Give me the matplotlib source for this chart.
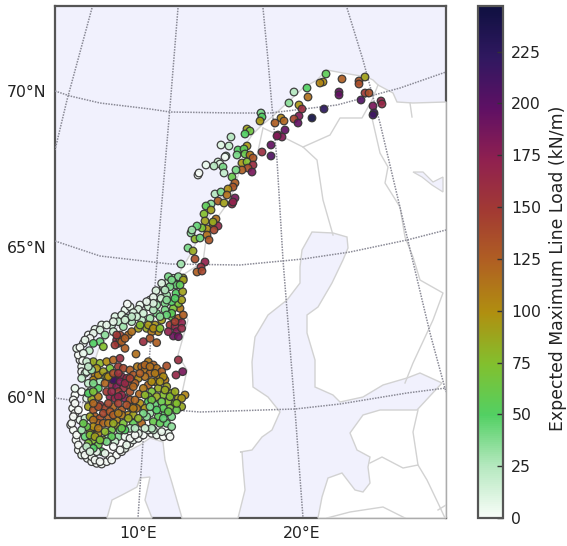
import numpy as np
import matplotlib
matplotlib.use('Agg')
import matplotlib.pyplot as plt
from matplotlib.colors import LinearSegmentedColormap
from matplotlib.cm import ScalarMappable
from matplotlib.colors import Normalize

font = {'family': 'DejaVu Sans', 'weight': 'normal', 'size': 11.3}
matplotlib.rc('font', **font)

# map coordinates
north_x = [326, 323, 320, 342, 359, 359, 365, 307, 308, 294, 339, 339, 365, 369, 361, 289, 299, 302, 324, 312,
           299, 294, 298, 373, 381, 382, 374, 373, 261, 262, 260, 281, 284, 275, 285, 278, 282, 277, 247, 250,
           245, 231, 221, 229, 271, 262, 271, 247, 238, 244, 237, 245, 250, 253, 242, 247, 253, 248, 242, 252,
           226, 225, 218, 220, 206, 214, 223, 198, 199, 224, 236, 232, 235, 233, 215, 221, 228, 227, 235, 232,
           233, 218, 224, 211, 206, 204, 211, 216, 205, 207, 213, 218, 214, 213, 202, 197, 191, 192, 195, 200,
           207, 209, 188, 193, 181, 195, 205, 201, 197, 202, 177, 183, 172]
north_y = [74, 82, 83, 79, 81, 84, 77, 88, 97, 92, 92, 95, 93, 93, 100, 103, 105, 109, 109, 118,
           116, 119, 123, 106, 101, 104, 113, 115, 113, 117, 121, 118, 121, 123, 130, 135, 137, 136, 129, 131,
           134, 137, 145, 146, 145, 152, 156, 146, 150, 149, 155, 154, 155, 158, 163, 162, 165, 168, 170, 172,
           156, 157, 162, 164, 165, 166, 167, 175, 173, 173, 170, 177, 183, 187, 194, 192, 189, 195, 198, 204,
           202, 201, 203, 204, 206, 214, 210, 219, 221, 229, 224, 226, 230, 222, 228, 226, 233, 230, 239, 238,
           235, 240, 248, 251, 264, 259, 262, 267, 272, 271, 278, 278, 281]
north_load = [55, 100, 105, 125, 130, 135, 90, 50, 115, 25, 195, 195, 150, 135, 205, 35, 95, 160, 225, 245,
              180, 140, 195, 185, 170, 165, 215, 215, 40, 50, 95, 105, 120, 125, 195, 175, 180, 180, 90, 65,
              50, 25, 10, 20, 195, 160, 205, 95, 50, 55, 40, 60, 110, 130, 95, 75, 160, 135, 125, 185,
              30, 0, 15, 10, 5, 25, 40, 0, 0, 20, 40, 60, 125, 130, 25, 40, 100, 115, 185, 165,
              170, 125, 90, 35, 55, 75, 90, 115, 90, 100, 110, 165, 140, 85, 70, 45, 35, 30, 80, 45,
              115, 130, 40, 85, 30, 135, 170, 160, 125, 140, 50, 85, 50]

# southern cluster, digitised on a 3x crop starting at (50, 260)
south_cx = [385, 355, 400, 378, 360, 335, 318, 350, 378, 398, 333, 310, 232, 390, 370, 345, 320, 295, 265, 250,
            215, 205, 185, 170, 245, 275, 300, 320, 345, 365, 385, 400, 360, 395, 375, 380, 370, 355, 335, 230,
            190, 220, 265, 290, 315, 325, 305, 270, 210, 235, 245, 205, 200, 225, 280, 300, 320, 150, 130, 120,
            165, 150, 130, 160, 105, 90, 118, 100, 98, 120, 130, 150, 170, 180, 190, 210, 258, 105, 95, 110,
            135, 130, 155, 150, 115, 205, 220, 240, 262, 275, 295, 310, 320, 285, 300, 350, 325, 335, 385, 398,
            378, 195, 185, 200, 215, 230, 250, 265, 235, 255, 220, 180, 225, 240, 205, 190, 345, 315, 295, 350,
            325, 365, 305, 340, 295, 320, 405, 385, 355, 375, 395, 268, 75, 95, 120, 145, 110, 75, 125, 145,
            85, 115, 150, 130, 165, 190, 215, 240, 235, 270, 295, 315, 335, 360, 380, 345, 365, 325, 300, 285,
            260, 250, 65, 70, 90, 105, 135, 150, 175, 145, 200, 215, 250, 275, 290, 310, 350, 365, 330, 85,
            80, 105, 125, 120, 145, 160, 130, 115, 145, 185, 205, 220, 240, 175, 205, 195, 225, 210, 265, 295,
            240, 255, 230, 210, 155, 125, 100, 105, 135, 150, 185, 165, 190, 140, 335, 360, 310]
south_cy = [50, 50, 60, 75, 80, 70, 92, 105, 100, 95, 115, 112, 132, 145, 145, 130, 135, 140, 148, 158,
            165, 185, 195, 195, 185, 180, 175, 160, 150, 170, 175, 165, 195, 188, 200, 215, 228, 215, 180, 175,
            215, 200, 205, 205, 195, 215, 215, 195, 225, 225, 215, 250, 240, 265, 245, 235, 248, 210, 220, 235,
            225, 245, 250, 260, 240, 262, 272, 280, 302, 310, 305, 310, 305, 325, 300, 295, 282, 340, 355, 335,
            345, 360, 350, 365, 370, 320, 325, 330, 320, 320, 305, 315, 325, 330, 340, 318, 345, 335, 300, 335,
            345, 355, 375, 380, 350, 355, 345, 355, 375, 370, 385, 410, 415, 395, 395, 360, 360, 365, 375, 380,
            385, 400, 395, 405, 410, 410, 405, 415, 425, 430, 440, 402, 385, 395, 395, 385, 415, 430, 418, 410,
            450, 440, 435, 450, 445, 440, 450, 440, 465, 430, 425, 435, 425, 445, 450, 460, 470, 470, 460, 445,
            445, 465, 490, 470, 480, 475, 470, 475, 470, 490, 480, 465, 490, 490, 470, 485, 490, 500, 490, 555,
            525, 530, 520, 510, 520, 540, 540, 550, 555, 510, 500, 490, 505, 525, 530, 545, 530, 510, 520, 510,
            535, 525, 555, 570, 575, 590, 570, 585, 600, 605, 600, 580, 560, 575, 515, 530, 510]
south_load = [35, 40, 90, 45, 40, 10, 10, 30, 50, 90, 15, 5, 0, 110, 70, 40, 30, 15, 10, 10,
              10, 20, 15, 5, 25, 20, 30, 40, 40, 60, 120, 125, 150, 170, 165, 180, 190, 170, 90, 25,
              15, 30, 90, 85, 95, 105, 110, 75, 140, 120, 115, 160, 165, 125, 160, 130, 125, 10, 5, 0,
              35, 45, 50, 75, 5, 0, 20, 5, 0, 15, 85, 80, 100, 70, 120, 160, 115, 25, 20, 10,
              110, 105, 30, 25, 20, 150, 140, 125, 110, 120, 110, 120, 115, 115, 120, 135, 110, 125, 160, 185,
              165, 195, 165, 180, 170, 165, 130, 105, 140, 125, 160, 170, 175, 135, 150, 215, 110, 105, 120, 90,
              85, 80, 70, 75, 65, 85, 105, 90, 75, 70, 85, 120, 5, 0, 20, 50, 10, 0, 85, 110,
              0, 90, 160, 130, 140, 120, 125, 105, 105, 100, 50, 45, 60, 70, 60, 50, 40, 55, 30, 95,
              115, 90, 0, 0, 5, 15, 125, 135, 125, 120, 105, 110, 55, 120, 35, 60, 45, 35, 55, 0,
              0, 45, 90, 95, 105, 85, 75, 70, 60, 65, 90, 70, 25, 30, 35, 15, 5, 40, 5, 5,
              0, 0, 5, 0, 50, 0, 0, 0, 0, 0, 0, 5, 0, 5, 5, 0, 20]

# outer ring of low load stations, same crop
ring_cx = [75, 70, 68, 75, 62, 70, 78, 85, 95, 112, 125, 140, 155, 170, 180, 200, 215, 225, 240, 250,
           265, 280, 305, 320, 340, 355, 90, 85, 95, 95, 80, 100, 115, 135, 155, 195, 225, 240, 270, 300,
           325, 340, 355, 370]
ring_cy = [405, 420, 445, 460, 495, 510, 540, 570, 585, 595, 605, 610, 612, 605, 590, 585, 575, 565, 550, 540,
           535, 525, 520, 525, 530, 520, 300, 285, 320, 335, 265, 250, 225, 208, 195, 170, 150, 140, 135, 120,
           100, 80, 65, 55]
ring_load = [0, 0, 0, 0, 0, 0, 0, 0, 5, 0, 0, 0, 0, 0, 0, 0, 0, 5, 0, 5,
             0, 0, 0, 5, 0, 5, 0, 0, 5, 0, 5, 0, 0, 5, 5, 10, 5, 5, 5, 5,
             5, 5, 15, 20]

# inner stations of the same cluster
inner_cx = [120, 130, 160, 180, 160, 175, 190, 205, 130, 145, 110, 95, 100, 120, 135, 165, 185, 170, 150, 130,
            110, 120, 145, 130, 115, 130, 130, 145, 140, 125, 110, 115, 160, 170, 165, 175, 190, 205, 210, 225,
            240, 215, 195, 170, 185, 205, 250, 240, 255, 230, 205, 175, 250, 285, 270, 285, 300, 315, 340, 330,
            305, 280, 305, 285, 345, 360, 375, 395, 340, 320, 300, 280, 265, 340, 355, 380, 305, 285, 255, 225,
            190, 235, 215, 210, 195, 215, 200, 225, 295, 310, 330, 365, 350, 330, 310, 280, 260, 245, 225, 190,
            385, 365, 350, 395, 345, 365, 390, 375, 310, 290, 375, 395, 385]
inner_cy = [470, 480, 460, 455, 490, 490, 465, 460, 500, 505, 500, 510, 490, 525, 530, 515, 530, 545, 540, 565,
            560, 575, 440, 430, 400, 395, 370, 345, 325, 330, 305, 320, 335, 350, 370, 350, 340, 340, 365, 370,
            355, 405, 415, 395, 395, 410, 380, 420, 420, 435, 430, 430, 445, 350, 340, 315, 320, 340, 350, 365,
            365, 385, 420, 405, 390, 410, 395, 415, 445, 450, 440, 460, 475, 475, 455, 430, 505, 505, 505, 510,
            490, 475, 505, 240, 255, 245, 225, 235, 195, 205, 205, 160, 165, 170, 150, 160, 170, 170, 180, 185,
            130, 125, 120, 120, 90, 60, 75, 115, 130, 125, 185, 205, 230]
inner_load = [90, 115, 140, 130, 120, 110, 125, 110, 100, 110, 60, 30, 60, 75, 90, 80, 55, 40, 70, 50,
              20, 10, 135, 120, 50, 70, 40, 105, 95, 30, 15, 20, 90, 85, 120, 100, 135, 155, 180, 165,
              145, 165, 165, 150, 165, 170, 120, 130, 120, 135, 145, 140, 110, 115, 125, 120, 115, 110, 100, 95,
              100, 110, 65, 80, 85, 75, 85, 95, 55, 50, 40, 40, 80, 45, 60, 75, 25, 15, 25, 50,
              85, 85, 60, 130, 150, 125, 150, 125, 95, 100, 75, 55, 45, 35, 25, 15, 15, 20, 15, 5,
              70, 50, 35, 90, 25, 40, 55, 50, 10, 5, 145, 165, 190]

# coast and borders in map coordinates
land_x = [163, 165, 172, 182, 238, 245, 243, 242, 240, 252, 262, 272, 280, 268, 253, 252, 255, 268, 287, 300,
          300, 302, 312, 333, 347, 348, 343, 332, 318, 307, 307, 315, 315, 333, 340, 363, 383, 407, 420, 442,
          417, 380, 363, 350, 357, 370, 368, 370, 363, 355, 342, 328, 322, 318, 446, 446, 413, 397, 393, 378,
          373, 367, 343, 327, 317, 303, 287, 272, 262, 252, 242, 236, 225, 215, 205, 190, 178, 165, 150, 125,
          100, 85, 80, 82, 95, 115, 140, 150]
land_y = [442, 460, 483, 518, 518, 490, 467, 452, 452, 450, 437, 430, 412, 397, 387, 362, 337, 315, 300, 283,
          267, 250, 232, 233, 237, 248, 260, 283, 307, 315, 333, 360, 387, 395, 402, 397, 385, 378, 373, 383,
          410, 410, 415, 433, 450, 457, 467, 483, 492, 490, 473, 478, 497, 518, 518, 102, 103, 102, 93, 85,
          80, 77, 73, 70, 80, 88, 103, 117, 125, 135, 150, 170, 195, 205, 225, 255, 275, 295, 305, 320,
          345, 390, 420, 440, 452, 458, 445, 438]
denmark_x = [107, 112, 122, 137, 140, 150, 145, 152]
denmark_y = [518, 500, 495, 487, 478, 477, 500, 518]
white_sea_x = [413, 423, 433, 443, 443, 432, 422]
white_sea_y = [172, 172, 182, 177, 192, 185, 177]
borders = [
    ([183, 182, 187, 178, 188, 178, 178, 203, 207, 230, 240, 255, 263], [410, 393, 370, 355, 320, 300, 278, 262, 232, 200, 170, 165, 128]),
    ([263, 285, 303, 317, 323, 333], [128, 138, 147, 160, 200, 235]),
    ([303, 330, 340, 362, 372, 378], [147, 135, 118, 118, 100, 85]),
    ([372, 380, 388, 385, 400, 405, 413, 420, 443, 433, 413, 405], [118, 153, 167, 183, 207, 237, 257, 280, 293, 320, 363, 383]),
    ([370, 382, 403, 418, 427, 438, 445], [463, 457, 468, 465, 480, 503, 518]),
    ([418, 413, 418], [410, 432, 465]),
    ([327, 350, 383, 405], [518, 512, 507, 518]),
    ([438, 446], [510, 505]),
    ([410, 412], [103, 117]),
]

# graticule
parallel_70_x = [55, 70, 100, 150, 170, 235, 270, 337, 400, 446]
parallel_70_y = [91, 96, 103, 109, 112, 113, 113, 105, 88, 72]
parallel_65_x = [55, 100, 170, 240, 303, 350, 407, 446]
parallel_65_y = [241, 256, 264, 265, 259, 252, 240, 230]
parallel_60_x = [55, 70, 110, 187, 200, 295, 340, 407, 446]
parallel_60_y = [398, 400, 408, 411, 412, 409, 404, 393, 388]
meridian_0_x = [92, 67, 55]
meridian_0_y = [8, 100, 150]
meridian_10_x = [178, 170, 157, 150, 143, 138]
meridian_10_y = [8, 107, 260, 350, 442, 518]
meridian_20_x = [263, 268, 272, 277, 283, 295, 303]
meridian_20_y = [8, 60, 107, 160, 260, 410, 518]
meridian_30_x = [347, 363, 380, 403, 430, 446]
meridian_30_y = [8, 60, 123, 220, 333, 392]

lat_ticks = [91, 247, 397]
lat_labels = ['70°N', '65°N', '60°N']
lon_ticks = [138, 302]
lon_labels = ['10°E', '20°E']

cbar_ticks = [0, 25, 50, 75, 100, 125, 150, 175, 200, 225]
cbar_colors = ['#f8fdf8', '#b5e8bf', '#52d063', '#82c02e', '#b08f10', '#b06022',
               '#a23a33', '#902050', '#5f1064', '#301860', '#0f1040']
load_max = 247


def main():
    # ring first so the inner stations sit on top of it
    cx = ring_cx + south_cx + inner_cx
    cy = ring_cy + south_cy + inner_cy
    x = np.array(north_x + [50 + v / 3 for v in cx])
    y = np.array(north_y + [260 + v / 3 for v in cy])
    load = np.array(north_load + ring_load + south_load + inner_load)

    W, H = 567, 546
    fig = plt.figure(figsize=(W / 100, H / 100), dpi=100)
    ax = fig.add_axes([55 / W, (H - 518) / H, (446 - 55) / W, (518 - 6) / H])
    ax.set_xlim(55, 446)
    ax.set_ylim(518, 6)
    sea = '#f1f1fd'
    ax.set_facecolor(sea)

    coast = '#d2d2d2'
    ax.fill(land_x, land_y, facecolor='white', edgecolor=coast, lw=1.0, zorder=2, clip_on=False)
    ax.fill(denmark_x, denmark_y, facecolor='white', edgecolor=coast, lw=1.0, zorder=2, clip_on=False)
    ax.fill(white_sea_x, white_sea_y, facecolor=sea, edgecolor=coast, lw=0.9, zorder=2)
    for bx, by in borders:
        ax.plot(bx, by, color=coast, lw=1.0, zorder=2)

    for gx, gy in [(parallel_70_x, parallel_70_y), (parallel_65_x, parallel_65_y), (parallel_60_x, parallel_60_y),
                   (meridian_0_x, meridian_0_y), (meridian_10_x, meridian_10_y),
                   (meridian_20_x, meridian_20_y), (meridian_30_x, meridian_30_y)]:
        ax.plot(gx, gy, color='#8a8a96', lw=1.1, ls=(0, (1, 0.8)), zorder=3)

    cmap = LinearSegmentedColormap.from_list('load', cbar_colors, N=256)
    norm = Normalize(0, load_max)
    ax.scatter(x, y, c=load, cmap=cmap, norm=norm, s=30, edgecolors='#333333', linewidths=0.9, alpha=0.92, zorder=4)

    ax.set_yticks(lat_ticks, lat_labels)
    ax.set_xticks(lon_ticks, lon_labels)
    ax.tick_params(length=0, pad=6, labelcolor='#222222')
    for s in ax.spines.values():
        s.set_color('#555555')
        s.set_linewidth(1.6)
        s.set_zorder(1)

    cax = fig.add_axes([478 / W, (H - 518) / H, 25 / W, (518 - 6) / H])
    cb = fig.colorbar(ScalarMappable(norm=norm, cmap=cmap), cax=cax, ticks=cbar_ticks)
    cb.ax.tick_params(direction='in', length=4, width=1, color='#333333', labelcolor='#222222', pad=6)
    cb.outline.set_edgecolor('#555555')
    cb.outline.set_linewidth(1.6)
    fig.text(558 / W, (H - 268) / H, 'Expected Maximum Line Load (kN/m)', rotation=90,
             ha='center', va='center', color='#222222', fontsize=12.4)

    plt.savefig('out.png', dpi=100)


if __name__ == '__main__':
    main()
